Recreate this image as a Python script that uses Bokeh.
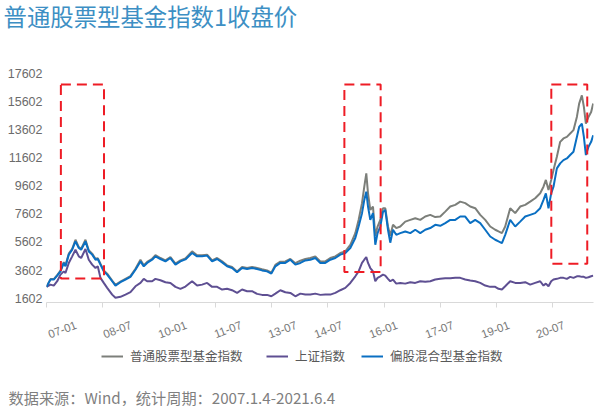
from bokeh.plotting import figure
from bokeh.layouts import column
from bokeh.models import FixedTicker, Label, Legend, LegendItem, BoxAnnotation, ColumnDataSource
from bokeh.embed import file_html
from bokeh.resources import INLINE

# ---- data (x: position along axis in months since 2007-01) ----
t = [0, 1.28, 2.33, 3.42, 4.48, 5.53, 6.07, 7.13, 8.22, 9.27,
     10.33, 11.09, 12.47, 13.52, 14.61, 15.67, 16.40, 17.26, 18.32, 19.41,
     21.01, 22.06, 23.66, 25.26, 26.86, 28.46, 30.06, 31.12, 32.20, 33.80,
     34.85, 36.45, 38.05, 39.65, 41.25, 42.85, 44.45, 46.58, 48.18, 49.78,
     51.38, 52.98, 54.58, 56.18, 57.77, 59.37, 60.97, 62.57, 64.17, 65.77,
     67.37, 68.96, 70.56, 71.94, 73.22, 74.81, 76.41, 78.01, 79.61, 81.21,
     82.81, 84.41, 86.00, 87.60, 89.20, 90.80, 92.40, 94.00, 95.60, 97.20,
     98.80, 99.85, 100.94, 101.67, 102.31, 102.86, 103.59, 104.45, 105.19, 105.92,
     106.79, 107.65, 108.38, 109.25, 109.98, 110.85, 111.90, 113.18, 114.78, 116.38,
     117.98, 119.58, 121.17, 122.77, 124.37, 125.97, 127.57, 129.17, 130.77, 132.36,
     133.96, 135.56, 137.16, 138.76, 140.36, 141.96, 143.55, 144.61, 145.70, 146.75,
     148.35, 149.95, 151.55, 153.15, 154.74, 156.34, 157.94, 159.00, 159.76, 160.60,
     161.46, 162.20, 163.28, 164.34, 165.39, 166.48, 167.54, 168.59, 169.68, 170.41,
     171.28, 171.92, 172.56, 173.39, 174.25, 174.9]

stock_fund = [2410, 2960, 2960, 3250, 3560, 4170, 3920, 4770, 5120, 5760,
              5240, 5120, 5760, 5010, 4770, 4410, 4450, 4060, 3580, 3350,
              2860, 2550, 2780, 2980, 3170, 3700, 4340, 3950, 4180, 4410,
              4660, 4460, 4290, 4530, 4060, 4290, 4430, 4930, 4650, 4650,
              4700, 4290, 4460, 4220, 3940, 3830, 3510, 3830, 3750, 3830,
              3750, 3660, 3580, 3420, 3970, 4200, 4220, 4390, 4090, 4270,
              4390, 4460, 4580, 4220, 4220, 4460, 4580, 4820, 4930, 5400,
              6230, 7170, 8360, 9530, 10480, 9060, 7880, 8120, 6040, 6700,
              7170, 8000, 8000, 6700, 6040, 6820, 6590, 6700, 7050, 7170,
              7290, 7170, 7410, 7530, 7370, 7410, 7760, 8120, 8240, 8470,
              8360, 8120, 8000, 7530, 7170, 6700, 6470, 6350, 6230, 6700,
              8000, 7650, 8120, 8240, 8470, 8710, 9060, 9530, 10010, 9300,
              10010, 10710, 11660, 12720, 12960, 13070, 13310, 13550, 14490, 15440,
              16020, 15200, 14020, 14490, 14840, 15440]

sh_index = [2410, 2570, 2500, 2810, 3280, 3510, 3400, 4110, 4580, 5050,
            4580, 4460, 5100, 4340, 3990, 3750, 3870, 3050, 2690, 2340,
            1860, 1630, 1700, 1860, 2030, 2450, 2690, 2980, 2810, 2810,
            2980, 2880, 2740, 2690, 2410, 2270, 2430, 2810, 2500, 2570,
            2690, 2410, 2410, 2220, 2270, 2170, 1980, 2220, 2100, 2100,
            1910, 1840, 1840, 1740, 1930, 2170, 2030, 1980, 1740, 1930,
            1860, 1860, 1930, 1840, 1860, 1860, 1980, 2170, 2340, 2690,
            3160, 3510, 4110, 4340, 4530, 4110, 3750, 3510, 2810, 3050,
            3160, 3280, 3210, 2980, 2810, 2930, 2640, 2690, 2640, 2740,
            2690, 2810, 2780, 2810, 2930, 2980, 3020, 3020, 3050, 3050,
            2930, 2860, 2810, 2690, 2500, 2410, 2410, 2270, 2220, 2450,
            2810, 2690, 2690, 2740, 2570, 2690, 2810, 2500, 2640, 2450,
            2810, 2930, 2980, 3050, 3050, 2980, 3120, 3050, 3160, 3160,
            3120, 3120, 3050, 3090, 3160, 3210]

mixed_fund = [2410, 2930, 2930, 3210, 3510, 4110, 3870, 4700, 5050, 5640,
              5170, 5050, 5640, 4930, 4700, 4340, 4390, 3990, 3510, 3280,
              2810, 2500, 2740, 2930, 3120, 3630, 4220, 3870, 4110, 4340,
              4580, 4390, 4220, 4460, 3990, 4220, 4360, 4820, 4580, 4580,
              4630, 4220, 4390, 4150, 3870, 3750, 3440, 3750, 3680, 3750,
              3680, 3580, 3510, 3350, 3870, 4110, 4110, 4340, 3990, 4110,
              4290, 4340, 4460, 4110, 4110, 4340, 4460, 4700, 4820, 5170,
              5880, 6700, 7650, 8590, 9180, 8120, 7170, 7650, 5400, 6230,
              6700, 7740, 7880, 6470, 5550, 6470, 6110, 6230, 6350, 6230,
              6470, 6230, 6470, 6590, 6820, 6750, 6940, 7170, 7170, 7410,
              7410, 6940, 7170, 6940, 6470, 5990, 5760, 5640, 5520, 6110,
              7170, 6700, 7050, 7410, 7530, 7650, 8000, 8590, 9060, 8000,
              9060, 9530, 10830, 11190, 11420, 11540, 11780, 12010, 13070, 13780,
              14020, 13070, 11780, 12360, 12720, 13190]

series_names = ["普通股票型基金指数", "上证指数", "偏股混合型基金指数"]
y_ticks = [1602, 3602, 5602, 7602, 9602, 11602, 13602, 15602, 17602]
x_tick_pos = [0, 18, 36, 54, 72, 90, 108, 126, 144, 162]
x_labels = ["07-01", "08-07", "10-01", "11-07", "13-07", "14-07", "16-01", "17-07", "19-01", "20-07"]
x_label_pos = [9.5, 27.1, 44.7, 62.3, 79.9, 94.6, 112.2, 130.1, 148.0, 165.6]
# highlighted periods (start, end, lower bound)
hl_start = [4.6, 95.3, 161.5]
hl_end = [18.4, 106.9, 173.0]
hl_low = [3000, 3470, 4060]
hl_top = 16800

title_text = "普通股票型基金指数1收盘价"
source_text = "数据来源：Wind，统计周期：2007.1.4-2021.6.4"

CJK = "Noto Sans CJK SC"
colors = ["#7c7f7a", "#5e4f92", "#0a6fc2"]


def bare(fig):
    fig.outline_line_color = None
    fig.background_fill_color = "white"
    fig.border_fill_color = "white"
    if "frame_align" in fig.properties():
        fig.frame_align = False
    return fig


src = ColumnDataSource(dict(t=t, g=stock_fund, s=sh_index, m=mixed_fund))

# ---- title strip ----
top = bare(figure(width=600, height=60, x_range=(0, 600), y_range=(0, 60),
                  x_axis_type=None, y_axis_type=None, output_backend="svg",
                  toolbar_location=None, min_border=0, title=None))
top.add_layout(Label(x=3, y=45, x_units="screen", y_units="screen", text=title_text,
                     text_font_size="23.4px", text_color="#3d8fc4", text_font=CJK,
                     text_baseline="middle", text_align="left"))

# ---- main chart ----
p = bare(figure(width=600, height=285, x_range=(0, 175), y_range=(1298, 18502),
                output_backend="svg", toolbar_location=None, title=None,
                min_border_left=46, min_border_right=7, min_border_top=0, min_border_bottom=42))
p.xgrid.visible = False
p.ygrid.visible = False

p.line("t", "g", source=src, line_color=colors[0], line_width=2)
p.line("t", "s", source=src, line_color=colors[1], line_width=2)
p.line("t", "m", source=src, line_color=colors[2], line_width=2)

p.yaxis.ticker = FixedTicker(ticks=y_ticks)
p.yaxis.axis_line_color = None
p.yaxis.major_tick_line_color = None
p.yaxis.minor_tick_line_color = None
p.yaxis.major_tick_in = 0
p.yaxis.major_tick_out = 0
p.yaxis.major_label_standoff = 4
p.yaxis.major_label_text_font_size = "12.5px"
p.yaxis.major_label_text_color = "#6b6b6b"
p.yaxis.major_label_text_font = "Liberation Sans"

p.xaxis.ticker = FixedTicker(ticks=x_label_pos, minor_ticks=x_tick_pos)
p.xaxis.major_label_overrides = {pos: lbl for pos, lbl in zip(x_label_pos, x_labels)}
p.xaxis.major_label_orientation = 0.36
p.xaxis.axis_line_color = "#d9d9d9"
p.xaxis.major_tick_line_color = None
p.xaxis.major_tick_in = 0
p.xaxis.major_tick_out = 0
p.xaxis.minor_tick_line_color = "#d9d9d9"
p.xaxis.minor_tick_in = 0
p.xaxis.minor_tick_out = 5
p.xaxis.major_label_standoff = 17
p.xaxis.major_label_text_font_size = "11.5px"
p.xaxis.major_label_text_color = "#7a7a7a"
p.xaxis.major_label_text_font = "Liberation Sans"

for s, e, lo in zip(hl_start, hl_end, hl_low):
    p.add_layout(BoxAnnotation(left=s, right=e, bottom=lo, top=hl_top,
                               fill_alpha=0, line_color="#ee1c25", line_alpha=1,
                               line_width=2, line_dash="10 6"))

# ---- legend + source strip ----
# the series are attached here as well (view placed far away from the data) so the legend can show them
bot = bare(figure(width=600, height=61, x_range=(-3000, -2400), y_range=(-3000, -2939),
                  x_axis_type=None, y_axis_type=None, output_backend="svg",
                  toolbar_location=None, min_border=0, title=None))
for col_name, name, col, vx in zip(["g", "s", "m"], series_names, colors, [101, 266, 361]):
    r = bot.line("t", col_name, source=src, line_color=col, line_width=2)
    leg = Legend(items=[LegendItem(label=name, renderers=[r])], location=(vx, 41),
                 orientation="horizontal", padding=0, margin=0, spacing=0,
                 border_line_color=None, background_fill_alpha=0,
                 glyph_width=22, glyph_height=16, label_standoff=7, label_height=16,
                 label_text_font_size="12.5px", label_text_color="#595959",
                 label_text_font=CJK)
    bot.add_layout(leg)
bot.add_layout(Label(x=8, y=10, x_units="screen", y_units="screen", text=source_text,
                     text_font_size="15.2px", text_color="#7f7f7f", text_font=CJK,
                     text_baseline="middle", text_align="left"))

layout = column(top, p, bot, spacing=0)
open("out.html", "w").write(file_html(layout, INLINE))
